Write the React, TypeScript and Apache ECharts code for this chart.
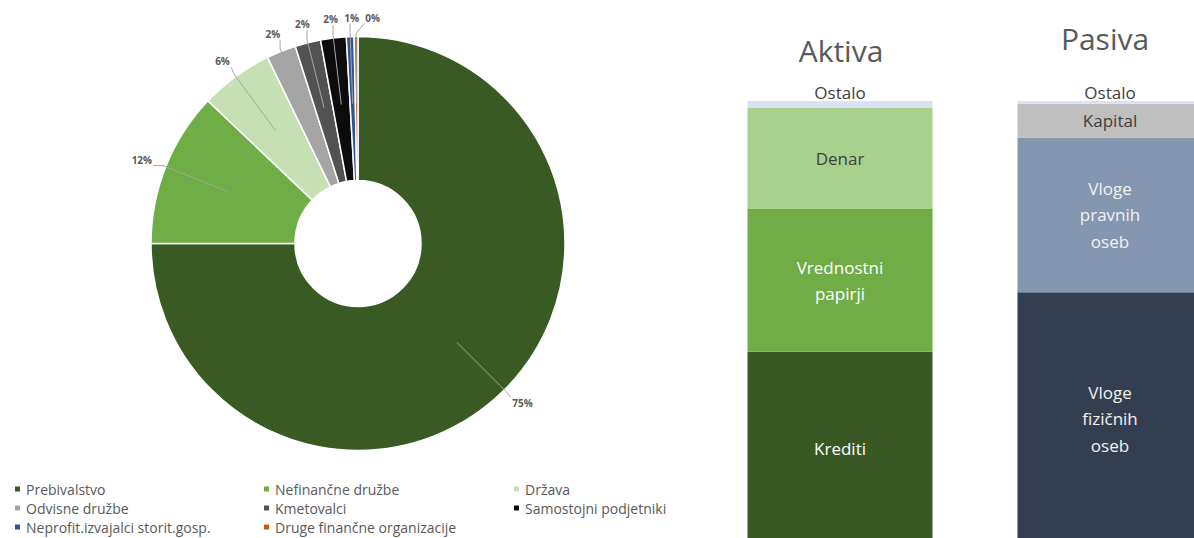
import React, { useEffect, useRef } from "react";
import * as echarts from "echarts";

// ---- Pie data (loan structure by sector) ----
const sectorNames = [
  "Prebivalstvo",
  "Nefinančne družbe",
  "Država",
  "Odvisne družbe",
  "Kmetovalci",
  "Samostojni podjetniki",
  "Neprofit.izvajalci storit.gosp.",
  "Druge finančne organizacije",
];
const sectorValues = [75.0, 12.1, 5.7, 2.3, 2.0, 2.0, 0.6, 0.3];
const sectorColors = [
  "#395a23",
  "#6fad46",
  "#c6e0b4",
  "#a5a5a5",
  "#525252",
  "#0c0c0c",
  "#2f5496",
  "#c55a11",
];

// ---- Balance sheet data (share of total, %) ----
const sides = ["Aktiva", "Pasiva"];
const layerNames = [
  ["Krediti", "Vloge\nfizičnih\noseb"],
  ["Vrednostni\npapirji", "Vloge\npravnih\noseb"],
  ["Denar", "Kapital"],
  ["Ostalo", "Ostalo"],
];
const layerValues = [
  [43.5, 56.9],
  [32.2, 34.9],
  [22.7, 7.6],
  [1.6, 0.6],
];
const layerColors = [
  ["#385723", "#333f50"],
  ["#70ad47", "#8496b0"],
  ["#a9d18e", "#bfbfbf"],
  ["#dae3f3", "#dae3f3"],
];
const layerTextColors = [
  ["#ffffff", "#f2f2f2"],
  ["#ffffff", "#f2f2f2"],
  ["#404040", "#404040"],
  ["#404040", "#404040"],
];

const FONT = "Open Sans";
const PIE_CX = 358;
const PIE_CY = 243.5;
const R_IN = 63;
const R_OUT = 207;

function pieLabelGeometry() {
  const total = sectorValues.reduce((a, b) => a + b, 0);
  let acc = 0;
  const out: { text: string; x: number; y: number; w: number; theta: number }[] = [];
  sectorValues.forEach((v) => {
    const theta = ((acc + v / 2) / total) * Math.PI * 2;
    acc += v;
    const text = Math.round((v / total) * 100) + "%";
    const w = text.length * 6.5;
    const r = R_OUT + 14;
    const s = Math.sin(theta);
    const c = Math.cos(theta);
    const x = PIE_CX + r * s + s * (w / 2 + 2);
    const y = PIE_CY - r * c - c * 5;
    out.push({ text, x, y, w, theta });
  });
  // simple horizontal de-overlap for neighbouring labels
  for (let i = 1; i < out.length; i++) {
    const a = out[i - 1];
    const b = out[i];
    const minGap = (a.w + b.w) / 2 + 8;
    if (Math.abs(a.y - b.y) < 12 && b.x - a.x < minGap && b.x >= a.x - 2) {
      b.x = a.x + minGap;
    }
  }
  return out;
}

export default function App() {
  const ref = useRef<HTMLDivElement>(null);

  useEffect(() => {
    if (!ref.current) return;
    const chart = echarts.init(ref.current, undefined, { renderer: "svg" });

    const labels = pieLabelGeometry();

    const legendCols = [
      [sectorNames[0], sectorNames[3], sectorNames[6]],
      [sectorNames[1], sectorNames[4], sectorNames[7]],
      [sectorNames[2], sectorNames[5]],
    ];
    const legendLefts = [13, 262, 512];

    const barSeries = layerValues.map((vals, li) => ({
      type: "bar",
      stack: "bs",
      barWidth: 185,
      xAxisIndex: 0,
      yAxisIndex: 0,
      data: vals.map((v, si) => ({
        value: v,
        itemStyle: { color: layerColors[li][si] },
        label: {
          show: true,
          position: li === 3 ? "top" : "inside",
          distance: 0,
          formatter: layerNames[li][si],
          color: layerTextColors[li][si],
          fontFamily: FONT,
          fontSize: 17,
          lineHeight: li === 3 ? 17 : 26.5,
        },
      })),
    }));

    const option: any = {
      animation: false,
      backgroundColor: "#ffffff",
      title: [
        {
          text: sides[0],
          left: 836,
          top: 30,
          textAlign: "center",
          textStyle: { fontFamily: FONT, fontSize: 30, fontWeight: "normal", color: "#595959" },
        },
        {
          text: sides[1],
          left: 1100,
          top: 18,
          textAlign: "center",
          textStyle: { fontFamily: FONT, fontSize: 30, fontWeight: "normal", color: "#595959" },
        },
      ],
      legend: legendCols.map((col, i) => ({
        data: col,
        orient: "vertical",
        left: legendLefts[i],
        top: 482,
        height: 80,
        padding: 0,
        itemWidth: 7,
        itemHeight: 7,
        itemGap: 5,
        icon: "rect",
        selectedMode: false,
        textStyle: { fontFamily: FONT, fontSize: 14, color: "#595959", lineHeight: 14 },
      })),
      grid: {
        left: 705,
        top: 101,
        width: 540,
        height: 444,
        outerBoundsMode: "none",
        containLabel: false,
      },
      xAxis: { type: "category", data: sides, show: false },
      yAxis: { type: "value", min: 0, max: 100, show: false },
      series: [
        {
          type: "pie",
          center: [PIE_CX, PIE_CY],
          radius: [R_IN, R_OUT],
          startAngle: 90,
          clockwise: true,
          data: sectorNames.map((n, i) => ({
            name: n,
            value: sectorValues[i],
            itemStyle: { color: sectorColors[i] },
          })),
          itemStyle: { borderColor: "#ffffff", borderWidth: 1.5 },
          label: { show: false },
          labelLine: { show: false },
          emphasis: { disabled: true },
        },
        {
          type: "custom",
          coordinateSystem: "none",
          silent: true,
          z: 5,
          data: labels.map((_, i) => i),
          renderItem: (params: any) => {
            const L = labels[params.dataIndex];
            const s = Math.sin(L.theta);
            const c = Math.cos(L.theta);
            const rm = (R_IN + R_OUT) / 2 + 5;
            const p0 = [PIE_CX + rm * s, PIE_CY - rm * c];
            const p1 = [PIE_CX + (R_OUT + 3) * s, PIE_CY - (R_OUT + 3) * c];
            const bx0 = L.x - L.w / 2 - 2;
            const bx1 = L.x + L.w / 2 + 2;
            const by0 = L.y - 6;
            const by1 = L.y + 6;
            const p2 = [
              Math.min(Math.max(p1[0], bx0), bx1),
              Math.min(Math.max(p1[1], by0), by1),
            ];
            return {
              type: "group",
              children: [
                {
                  type: "polyline",
                  shape: { points: [p0, p1, p2] },
                  style: { stroke: "#a6a6a6", fill: "none", lineWidth: 1 },
                },
                {
                  type: "text",
                  style: {
                    text: L.text,
                    x: L.x,
                    y: L.y,
                    align: "center",
                    verticalAlign: "middle",
                    fill: "#595959",
                    font: `bold 10px "${FONT}"`,
                  },
                },
              ],
            };
          },
        },
        ...barSeries,
      ],
    };

    chart.setOption(option);
    return () => chart.dispose();
  }, []);

  return (
    <div
      ref={ref}
      style={{ position: "fixed", left: 0, top: 0, width: 1194, height: 538 }}
    />
  );
}
